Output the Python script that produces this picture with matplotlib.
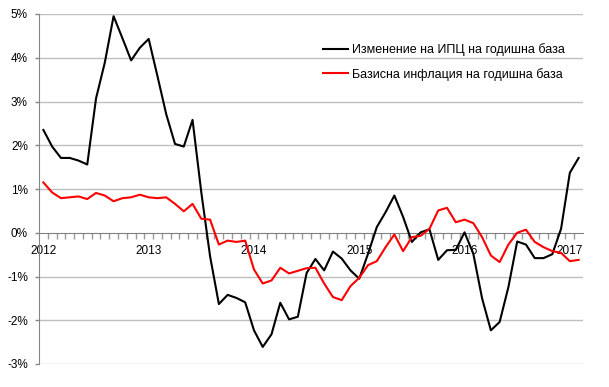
import matplotlib
matplotlib.use("Agg")
import matplotlib.pyplot as plt
import numpy as np

plt.rcParams['font.family'] = ['Liberation Sans', 'DejaVu Sans']

cpi = [2.35, 1.97, 1.71, 1.71, 1.65, 1.56, 3.07, 3.89, 4.95, 4.45,
       3.94, 4.23, 4.43, 3.58, 2.71, 2.03, 1.97, 2.58, 0.92, -0.54,
       -1.63, -1.42, -1.49, -1.59, -2.23, -2.61, -2.32, -1.60, -1.98, -1.92,
       -0.92, -0.60, -0.86, -0.43, -0.59, -0.86, -1.05, -0.48, 0.13, 0.47,
       0.85, 0.36, -0.21, 0.01, 0.08, -0.62, -0.40, -0.39, 0.01, -0.48,
       -1.50, -2.23, -2.04, -1.24, -0.20, -0.27, -0.58, -0.58, -0.49, 0.09,
       1.37, 1.71]
core = [1.15, 0.92, 0.79, 0.81, 0.83, 0.77, 0.91, 0.85, 0.72, 0.79,
        0.81, 0.87, 0.81, 0.79, 0.81, 0.66, 0.49, 0.66, 0.32, 0.30,
        -0.27, -0.18, -0.21, -0.18, -0.84, -1.16, -1.09, -0.80, -0.93, -0.87,
        -0.81, -0.80, -1.16, -1.47, -1.54, -1.22, -1.03, -0.74, -0.65, -0.33,
        -0.04, -0.42, -0.10, -0.07, 0.09, 0.51, 0.57, 0.24, 0.30, 0.22,
        -0.10, -0.52, -0.67, -0.27, 0.00, 0.07, -0.21, -0.33, -0.42, -0.46,
        -0.65, -0.62]
year_labels = ['2012', '2013', '2014', '2015', '2016', '2017']
ytick_vals = [5, 4, 3, 2, 1, 0, -1, -2, -3]
ytick_labels = ['5%', '4%', '3%', '2%', '1%', '0%', '-1%', '-2%', '-3%']
series_names = ['Изменение на ИПЦ на годишна база',
                'Базисна инфлация на годишна база']

W, H = 609, 387
fig = plt.figure(figsize=(W / 100, H / 100), dpi=100)
ax = fig.add_axes([39 / W, (H - 364) / H, 544 / W, 350 / H])

x = np.arange(len(cpi))
ax.plot(x, cpi, color='black', lw=1.5, label=series_names[0], zorder=3)
ax.plot(x, core, color='#ff0000', lw=1.5, label=series_names[1], zorder=3)

ax.set_xlim(-0.5, len(cpi) - 0.5)
ax.set_ylim(-3, 5)

for v in ytick_vals:
    if v != 0:
        ax.axhline(v, color='#bfbfbf', lw=1.0, zorder=1)

ax.set_yticks(ytick_vals)
ax.set_yticklabels(ytick_labels)
ax.tick_params(axis='y', length=3, width=1, color='#868686', pad=5,
               labelsize=8.5, labelcolor='black')

ax.set_xticks(np.arange(0, len(cpi), 12))
ax.set_xticklabels(year_labels)
ax.set_xticks(np.arange(0.5, len(cpi) - 0.5, 1), minor=True)
ax.tick_params(axis='x', which='major', length=0, pad=9, labelsize=8.5,
               labelcolor='black')
ax.tick_params(axis='x', which='minor', length=4, width=1, color='#9a9a9a',
               direction='out')

for s in ['top', 'right']:
    ax.spines[s].set_visible(False)
ax.spines['bottom'].set_position(('data', 0))
ax.spines['bottom'].set_color('#808080')
ax.spines['bottom'].set_zorder(2)
ax.spines['left'].set_color('#868686')

leg = ax.legend(loc='upper left', bbox_to_anchor=(323 / W, 1 - 43 / H),
                bbox_transform=fig.transFigure, frameon=False,
                borderpad=0, borderaxespad=0, handlelength=2.0,
                handletextpad=0.3, labelspacing=0.95, fontsize=9)

fig.savefig('out.png', dpi=100)
